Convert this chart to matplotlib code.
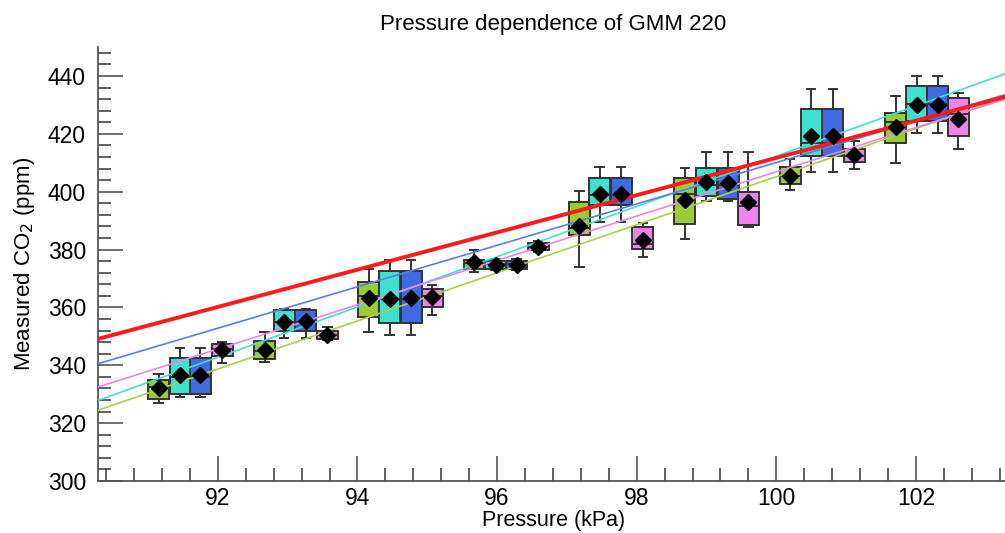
import numpy as np
import matplotlib.pyplot as plt
from matplotlib.ticker import MultipleLocator

plt.rcParams['font.family'] = ['Liberation Sans', 'DejaVu Sans']

# Box statistics per instrument series
pos_green = [91.15, 92.67, 94.16, 95.67, 97.18, 98.69, 100.2, 101.71]
lo_green = [327.1, 341.0, 351.5, 372.2, 373.9, 383.6, 400.6, 410.1]
q1_green = [328.5, 342.3, 356.7, 373.3, 385.2, 388.9, 402.7, 417.0]
med_green = [332.5, 345.0, 364.1, 375.5, 387.5, 399.2, 405.5, 424.0]
q3_green = [334.8, 348.4, 368.7, 376.4, 396.3, 404.9, 408.6, 427.3]
hi_green = [336.9, 351.5, 373.3, 379.7, 400.1, 408.1, 411.3, 433.1]
mean_green = [332.0, 345.4, 363.2, 375.6, 388.3, 397.2, 405.5, 422.5]

pos_turq = [91.46, 92.95, 94.46, 95.98, 97.47, 99.0, 100.5, 102.01]
lo_turq = [328.9, 349.5, 350.6, 372.8, 389.7, 396.9, 406.9, 420.4]
q1_turq = [330.2, 351.8, 354.6, 373.3, 395.4, 398.6, 412.2, 424.5]
med_turq = [336.0, 355.0, 363.0, 375.0, 399.0, 402.5, 417.0, 430.2]
q3_turq = [342.5, 359.0, 372.5, 376.2, 404.9, 408.2, 428.7, 436.6]
hi_turq = [346.0, 359.5, 376.4, 376.6, 408.6, 413.9, 435.4, 440.0]
mean_turq = [336.6, 354.9, 363.0, 374.7, 399.2, 403.2, 419.3, 429.9]

pos_blue = [91.75, 93.26, 94.77, 96.28, 97.78, 99.31, 100.81, 102.31]
lo_blue = [328.9, 349.5, 350.6, 372.8, 389.7, 396.9, 406.9, 420.4]
q1_blue = [330.2, 351.8, 354.6, 373.3, 395.4, 397.6, 412.2, 424.5]
med_blue = [336.0, 355.0, 363.0, 375.0, 399.0, 402.5, 417.0, 430.2]
q3_blue = [342.5, 359.0, 372.5, 376.2, 404.9, 408.2, 428.7, 436.6]
hi_blue = [346.0, 359.5, 376.4, 376.6, 408.6, 413.9, 435.4, 440.0]
mean_blue = [336.6, 355.3, 363.2, 374.7, 399.2, 403.0, 419.3, 429.9]

pos_violet = [92.06, 93.57, 95.07, 96.59, 98.09, 99.6, 101.12, 102.61]
lo_violet = [340.8, 348.6, 357.5, 379.1, 377.6, 387.7, 408.0, 414.7]
q1_violet = [343.1, 349.0, 360.3, 379.7, 380.2, 388.5, 410.2, 419.3]
med_violet = [345.5, 350.5, 364.0, 381.0, 382.0, 394.9, 412.5, 426.8]
q3_violet = [347.2, 352.0, 366.4, 382.2, 387.9, 400.0, 414.7, 432.3]
hi_violet = [348.0, 353.2, 367.9, 383.1, 389.1, 413.9, 417.6, 434.2]
mean_violet = [345.4, 350.3, 363.6, 381.0, 383.4, 396.6, 412.6, 425.0]

# linear fits: value at 100 kPa and slope (ppm/kPa)
fit_at100 = {'green': 405.2, 'turq': 412.3, 'blue': 410.1, 'violet': 406.9, 'red': 411.7}
fit_slope = {'green': 8.31, 'turq': 8.69, 'blue': 7.16, 'violet': 7.66, 'red': 6.44}

series = [
    ('green', '#99cc33', '#a6d24a', pos_green, lo_green, q1_green, med_green, q3_green, hi_green, mean_green),
    ('turq', '#40e0d0', '#40e0d0', pos_turq, lo_turq, q1_turq, med_turq, q3_turq, hi_turq, mean_turq),
    ('blue', '#4169e1', '#5b7fe8', pos_blue, lo_blue, q1_blue, med_blue, q3_blue, hi_blue, mean_blue),
    ('violet', '#ee82ee', '#ee82ee', pos_violet, lo_violet, q1_violet, med_violet, q3_violet, hi_violet, mean_violet),
]

fig = plt.figure(figsize=(10.05, 5.33), dpi=100)
ax = fig.add_axes([0.098, 0.0976, 0.905, 0.814])

xmin, xmax = 90.29, 103.32
edge = '#333333'

for name, fc, lc, pos, lo, q1, med, q3, hi, mn in series:
    stats = []
    for i in range(len(pos)):
        stats.append({'whislo': lo[i], 'q1': q1[i], 'med': med[i], 'q3': q3[i],
                      'whishi': hi[i], 'mean': mn[i], 'fliers': []})
    ax.bxp(stats, positions=pos, widths=0.3, patch_artist=True, showmeans=False,
           capwidths=0.12, manage_ticks=False,
           boxprops=dict(facecolor=fc, edgecolor=edge, linewidth=1.4),
           medianprops=dict(color=edge, linewidth=1.4),
           whiskerprops=dict(color=edge, linewidth=1.4),
           capprops=dict(color=edge, linewidth=1.4))

for name, fc, lc, *_ in series:
    xx = np.array([xmin, xmax])
    ax.plot(xx, fit_at100[name] + fit_slope[name] * (xx - 100), color=lc, lw=1.2, zorder=4)

xx = np.array([xmin, xmax])
ax.plot(xx, fit_at100['red'] + fit_slope['red'] * (xx - 100), color='#ff1a1a', lw=2.8, zorder=5)

for name, fc, lc, pos, lo, q1, med, q3, hi, mn in series:
    ax.plot(pos, mn, 'D', color='black', markersize=8.5, zorder=6)

ax.set_xlim(xmin, xmax)
ax.set_ylim(300, 450)
ax.xaxis.set_major_locator(MultipleLocator(2))
ax.xaxis.set_minor_locator(MultipleLocator(0.4))
ax.yaxis.set_major_locator(MultipleLocator(20))
ax.yaxis.set_minor_locator(MultipleLocator(4))
ax.tick_params(which='major', direction='in', length=18, width=1.2, color='#555555', labelsize=16.5, pad=9)
ax.tick_params(axis='x', which='major', pad=4)
ax.tick_params(which='minor', direction='in', length=9.5, width=1.2, color='#444444')
ax.spines['top'].set_visible(False)
ax.spines['right'].set_visible(False)
for s in ['left', 'bottom']:
    ax.spines[s].set_linewidth(1.3)
    ax.spines[s].set_color('#555555')

ax.set_title('Pressure dependence of GMM 220', fontsize=16, pad=12)
ax.set_xlabel('Pressure (kPa)', fontsize=15.5, labelpad=0)
ax.set_ylabel('Measured CO$_2$ (ppm)', fontsize=16, labelpad=8)

fig.savefig('out.png', dpi=100)
